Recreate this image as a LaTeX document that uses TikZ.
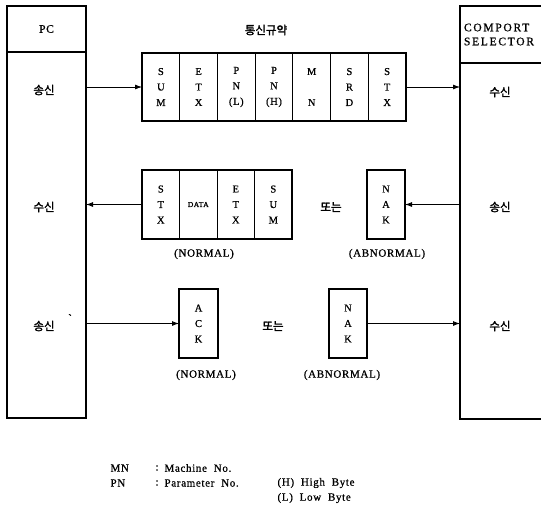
\documentclass[tikz,border=0pt]{standalone}
\usepackage{fontspec}
\setmainfont{Liberation Serif}[LetterSpace=6,FakeBold=0.8]
\newfontfamily\kr{Noto Sans CJK KR}[FakeBold=2]
\usetikzlibrary{arrows.meta,positioning}

\begin{document}
\begin{tikzpicture}[x=1pt,y=-1pt,
    node distance=0pt,
    box/.style={draw,line width=1.3pt,inner sep=0pt,outer sep=0pt},
    cell/.style={draw,line width=.8pt,inner sep=0pt,outer sep=0pt,align=center,
        minimum width=37.7pt,minimum height=68pt,font=\fontsize{10.5}{15.5}\selectfont},
    arrow/.style={-{Latex[length=7pt,width=5pt]},line width=.8pt},
    kor/.style={font=\kr\fontsize{11.5}{13}\selectfont},
    lbl/.style={font=\fontsize{11}{13}\selectfont}
]
\useasboundingbox (0,0) rectangle (541,515);
\clip (0,0) rectangle (541,515);

% the two stations
\node[box,minimum width=79pt,minimum height=46pt,font=\fontsize{11.5}{13}\selectfont] (pchead) at (46.5,29) {PC};
\node[box,minimum width=79pt,minimum height=366pt,below=of pchead] (pcbody) {};
\node[box,minimum width=88pt,minimum height=57pt,text width=80pt,inner xsep=4pt,align=left,
    font=\fontsize{11.5}{14}\selectfont\addfontfeatures{LetterSpace=15}] (cshead) at (504,34.5) {COMPORT\\SELECTOR};
\node[box,minimum width=88pt,minimum height=356pt,below=of cshead] (csbody) {};

\node[kor] (title) at (266,30) {통신규약};

% request frame
\node[cell] (sum1) at (160.9,87) {S\\U\\M};
\node[cell,right=of sum1] (etx1) {E\\T\\X};
\node[cell,right=of etx1] (pnl) {P\\N\\(L)};
\node[cell,right=of pnl] (pnh) {P\\N\\(H)};
\node[cell,right=of pnh] (mn) {M\\\\N};
\node[cell,right=of mn] (srd) {S\\R\\D};
\node[cell,right=of srd] (stx1) {S\\T\\X};
\draw[line width=1.3pt] (sum1.north west) rectangle (stx1.south east);

% answer frames
\node[cell,minimum width=37.5pt,minimum height=69pt] (stx2) at (160.8,204.5) {S\\T\\X};
\node[cell,minimum width=37.5pt,minimum height=69pt,right=of stx2,font=\fontsize{7.5}{9}\selectfont] (data) {DATA};
\node[cell,minimum width=37.5pt,minimum height=69pt,right=of data] (etx2) {E\\T\\X};
\node[cell,minimum width=37.5pt,minimum height=69pt,right=of etx2] (sum2) {S\\U\\M};
\draw[line width=1.3pt] (stx2.north west) rectangle (sum2.south east);
\node[cell,line width=1.3pt,minimum width=38pt,minimum height=69pt] (nak2) at (386,204.5) {N\\A\\K};

% acknowledge frames
\node[cell,line width=1.3pt,minimum width=39pt,minimum height=69pt] (ack) at (198.5,323.5) {A\\C\\K};
\node[cell,line width=1.3pt,minimum width=38pt,minimum height=69pt] (nak3) at (348,323.5) {N\\A\\K};

\node[lbl] (normal2) at (204,254) {(NORMAL)};
\node[lbl] (abnormal2) at (387,254) {(ABNORMAL)};
\node[lbl] (normal3) at (206,375) {(NORMAL)};
\node[lbl] (abnormal3) at (342,375) {(ABNORMAL)};
\node[kor] (or2) at (331,207) {또는};
\node[kor] (or3) at (273,326) {또는};

% station labels
\node[kor] (pcsend1) at (44,90) {송신};
\node[kor] (pcrecv) at (44,207) {수신};
\node[kor] (pcsend2) at (44,326) {송신};
\node[lbl] (tick) at (70,318) {\textasciigrave};
\node[kor] (csrecv1) at (500,92) {수신};
\node[kor] (cssend) at (500,207) {송신};
\node[kor] (csrecv2) at (500,326) {수신};

\draw[arrow] (pcbody.east |- sum1.west) -- (sum1.west);
\draw[arrow] (stx1.east) -- (csbody.west |- stx1.east);
\draw[arrow] (stx2.west) -- (pcbody.east |- stx2.west);
\draw[arrow] (csbody.west |- nak2.east) -- (nak2.east);
\draw[arrow] (pcbody.east |- ack.west) -- (ack.west);
\draw[arrow] (nak3.east) -- (csbody.west |- nak3.east);

% legend
\node[lbl,anchor=west] (mnkey) at (107,468) {MN};
\node[lbl,anchor=west] (mncolon) at (152,468) {:};
\node[lbl,anchor=west] (mnval) at (161,468) {Machine\ \ No.};
\node[lbl,anchor=west] (pnkey) at (107,483) {PN};
\node[lbl,anchor=west] (pncolon) at (152,483) {:};
\node[lbl,anchor=west] (pnval) at (161,483) {Parameter\ \ No.};
\node[lbl,anchor=west] (hkey) at (274,483) {(H)\ \ High\ \ Byte};
\node[lbl,anchor=west] (lkey) at (274,498) {(L)\ \ Low\ \ Byte};
\end{tikzpicture}
\end{document}
